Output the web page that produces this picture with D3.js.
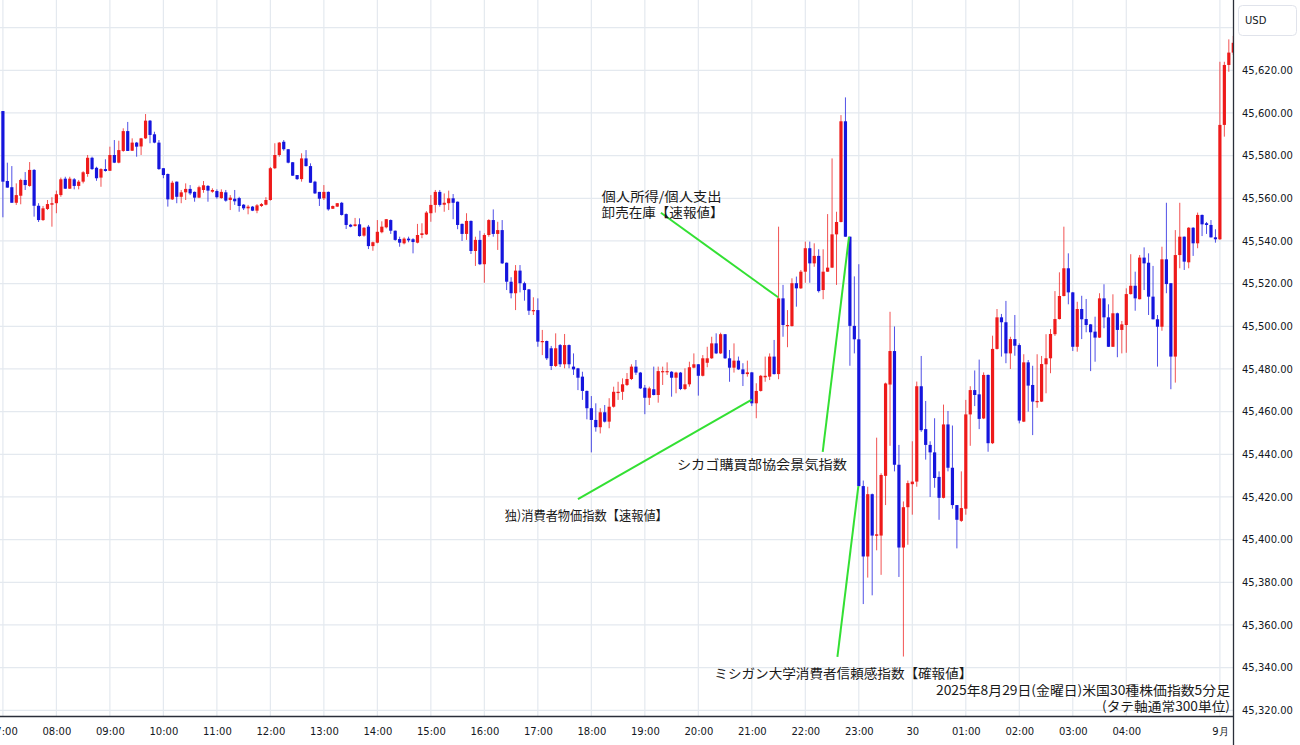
<!DOCTYPE html>
<html><head><meta charset="utf-8">
<script src="https://cdn.jsdelivr.net/npm/d3@7/dist/d3.min.js"></script>
<style>
html,body{margin:0;padding:0;background:#fff;}
svg{display:block;}
</style></head>
<body>
<svg id="chart" width="1300" height="745"></svg>
<script>
// ---- data (US30 5-minute bars, 2025-08-29 session + first bars of Sept) ----
const open = [
45600.9,45568.1,45565.2,45557.9,45561.2,45568.6,45565.8,45573.3,45556.5,45549.8,
45555.0,45557.0,45557.7,45561.5,45569.2,45564.5,45568.9,45565.8,45567.8,45571.4,
45579.0,45574.3,45569.7,45573.7,45572.9,45580.3,45576.7,45582.2,45591.5,45582.3,
45586.1,45584.3,45588.1,45596.4,45590.0,45586.1,45574.1,45571.4,45559.5,45567.8,
45560.7,45562.8,45564.4,45563.0,45560.3,45563.9,45565.8,45563.1,45563.4,45560.1,
45562.8,45559.2,45559.8,45560.1,45557.0,45555.3,45556.1,45554.2,45556.4,45557.0,
45559.2,45574.1,45580.3,45586.5,45583.0,45576.9,45570.9,45569.0,45578.7,45575.1,
45567.8,45563.0,45560.0,45563.0,45555.1,45556.1,45557.9,45552.6,45547.6,45547.0,
45547.8,45542.5,45546.7,45537.6,45539.2,45544.1,45546.4,45549.8,45544.8,45540.9,
45538.9,45541.1,45540.8,45539.2,45542.8,45543.1,45553.0,45556.9,45563.0,45557.0,
45557.7,45560.0,45558.4,45548.0,45543.3,45549.4,45535.3,45540.5,45529.1,45542.8,
45549.8,45543.3,45545.1,45529.8,45520.9,45515.5,45526.1,45520.2,45517.3,45507.3,
45507.6,45492.6,45493.1,45489.7,45481.4,45491.2,45482.2,45491.2,45481.1,45480.3,
45476.4,45469.7,45461.6,45456.1,45452.7,45459.7,45455.3,45462.3,45468.7,45469.3,
45472.5,45475.3,45481.1,45478.3,45471.2,45466.5,45470.5,45467.8,45478.7,45478.7,
45478.7,45475.9,45478.3,45470.6,45472.8,45480.6,45482.2,45476.8,45482.9,45485.0,
45492.0,45487.3,45496.3,45485.0,45480.6,45483.9,45479.8,45477.6,45478.4,45463.9,
45469.7,45476.1,45476.4,45485.8,45477.6,45513.1,45500.1,45500.1,45520.2,45517.8,
45525.6,45536.6,45529.5,45533.0,45517.0,45525.6,45527.5,45543.1,45548.9,45596.1,
45542.0,45500.2,45493.9,45425.1,45392.1,45421.3,45401.8,45401.9,45429.9,45472.7,
45488.4,45435.1,45396.3,45415.2,45426.0,45427.2,45471.9,45451.8,45444.4,45440.9,
45429.4,45419.6,45454.0,45433.7,45416.2,45408.8,45414.5,45458.7,45470.1,45468.1,
45456.8,45477.2,45445.2,45489.4,45504.2,45501.9,45487.3,45494.0,45491.2,45455.3,
45483.1,45472.5,45464.4,45464.7,45482.2,45485.0,45496.3,45503.4,45514.2,45527.2,
45515.9,45490.4,45508.1,45503.4,45500.9,45497.5,45494.7,45513.1,45504.2,45490.4,
45506.1,45498.3,45500.6,45515.1,45519.0,45512.7,45532.2,45529.8,45513.9,45503.3,
45499.8,45531.4,45520.2,45485.8,45533.4,45542.0,45530.0,45546.2,45538.9,45552.2,
45548.3,45547.5,45541.7,45540.8,45594.4,45622.5,45628.3
];
const high = [
45600.9,45576.7,45575.1,45567.0,45569.2,45572.3,45577.0,45573.7,45557.7,45556.4,
45559.2,45560.5,45563.6,45569.7,45570.1,45570.1,45569.5,45568.6,45572.7,45580.3,
45579.5,45574.8,45574.1,45578.3,45584.2,45587.3,45587.0,45592.8,45595.8,45588.1,
45586.4,45588.3,45599.5,45596.7,45591.2,45587.3,45574.2,45571.6,45568.2,45567.9,
45563.9,45567.0,45566.2,45563.2,45565.9,45568.1,45566.2,45564.7,45564.2,45564.2,
45563.9,45561.5,45563.9,45560.7,45557.3,45556.9,45556.4,45557.3,45557.8,45560.5,
45574.7,45585.8,45586.4,45587.3,45583.1,45577.0,45570.9,45581.1,45582.6,45576.4,
45568.2,45563.0,45566.2,45563.2,45556.6,45557.8,45558.3,45552.9,45548.0,45550.8,
45550.6,45546.5,45547.5,45539.7,45549.8,45549.2,45550.3,45550.1,45544.9,45542.0,
45541.7,45542.0,45541.3,45548.0,45548.3,45554.0,45561.5,45563.9,45563.9,45562.3,
45563.6,45562.0,45558.5,45548.2,45553.0,45549.6,45542.0,45544.8,45543.6,45550.2,
45554.8,45549.0,45549.8,45529.9,45523.0,45528.7,45528.7,45520.9,45517.5,45513.6,
45513.1,45498.3,45493.3,45490.8,45496.7,45491.7,45496.4,45491.5,45487.3,45480.5,
45478.7,45469.9,45467.3,45463.9,45461.6,45463.1,45466.3,45471.7,45474.0,45475.6,
45478.1,45482.2,45484.2,45478.6,45472.5,45471.7,45481.1,45481.1,45481.1,45483.1,
45479.0,45478.7,45478.6,45480.3,45483.4,45487.3,45482.3,45486.5,45490.4,45495.1,
45496.7,45497.0,45496.4,45488.9,45492.0,45485.8,45482.7,45483.9,45478.6,45473.3,
45477.2,45485.8,45487.3,45493.6,45546.7,45519.4,45507.6,45522.5,45523.3,45526.4,
45539.7,45539.7,45538.9,45536.1,45536.1,45552.6,45578.7,45553.7,45599.0,45607.3,
45542.1,45523.4,45529.1,45427.7,45424.8,45421.6,45447.8,45431.1,45473.6,45506.8,
45499.9,45444.4,45417.9,45427.7,45446.1,45474.1,45486.1,45465.0,45446.1,45456.9,
45432.0,45463.3,45460.3,45453.5,45416.2,45432.0,45465.5,45471.9,45479.3,45484.4,
45478.4,45477.4,45495.6,45508.1,45505.8,45511.9,45495.1,45505.3,45492.0,45486.9,
45484.2,45481.5,45486.9,45486.1,45496.3,45498.7,45516.5,45525.3,45546.7,45534.2,
45516.1,45511.5,45514.3,45512.8,45501.1,45504.5,45515.5,45519.7,45510.3,45515.0,
45506.4,45502.5,45517.8,45533.8,45525.6,45533.4,45537.0,45534.2,45528.3,45505.3,
45537.3,45557.9,45520.3,45545.1,45557.9,45542.1,45546.5,45546.5,45553.3,45552.4,
45548.9,45549.8,45545.5,45624.0,45624.0,45634.5,45636.1
];
const low = [
45551.1,45565.0,45557.9,45556.9,45557.2,45563.9,45565.4,45551.4,45548.9,45549.4,
45554.5,45546.7,45553.0,45560.7,45564.4,45564.4,45564.2,45564.2,45567.0,45570.1,
45573.3,45568.2,45565.4,45572.5,45572.8,45576.5,45576.4,45581.8,45582.2,45582.2,
45579.5,45580.3,45587.8,45585.8,45585.8,45573.3,45569.4,45556.1,45559.2,45557.7,
45557.7,45559.2,45561.5,45558.4,45560.1,45562.6,45558.4,45562.6,45559.8,45559.8,
45558.4,45554.5,45556.9,45553.7,45554.5,45552.5,45554.0,45553.0,45555.9,45556.7,
45558.9,45573.7,45579.5,45582.3,45576.4,45570.5,45568.6,45567.8,45574.9,45567.2,
45562.0,45556.4,45559.2,45554.2,45555.0,45555.9,45551.9,45545.6,45546.4,45546.7,
45542.0,45542.0,45536.2,45535.4,45538.9,45543.6,45545.9,45543.3,45540.1,45537.3,
45538.4,45539.4,45534.2,45538.9,45541.3,45542.8,45549.0,45553.3,45556.1,45553.7,
45554.5,45550.2,45545.5,45540.0,45540.5,45533.9,45528.3,45528.7,45520.4,45542.0,
45542.0,45535.8,45529.2,45517.0,45513.1,45507.6,45515.9,45512.0,45505.3,45505.3,
45490.4,45486.5,45484.2,45479.5,45480.9,45480.9,45480.3,45480.3,45477.2,45470.1,
45465.5,45456.4,45440.9,45450.6,45449.8,45454.9,45452.2,45461.9,45465.5,45465.5,
45472.0,45474.8,45477.2,45470.6,45458.8,45463.1,45467.6,45464.2,45472.5,45477.2,
45467.0,45468.6,45470.1,45470.1,45471.7,45480.3,45467.5,45476.5,45480.8,45484.7,
45487.0,45487.0,45484.7,45474.0,45478.3,45479.5,45472.0,45476.4,45462.6,45456.9,
45469.4,45474.0,45474.8,45477.4,45475.2,45495.1,45490.2,45499.9,45509.2,45517.5,
45520.4,45520.4,45527.9,45515.8,45512.7,45525.5,45527.3,45519.4,45548.7,45541.9,
45481.5,45487.3,45424.9,45369.8,45382.2,45373.9,45395.0,45383.5,45416.2,45444.0,
45432.0,45382.5,45345.2,45397.6,45411.7,45424.8,45450.5,45437.5,45420.0,45424.3,
45409.3,45419.3,45432.0,45414.5,45395.9,45408.3,45411.7,45444.0,45462.6,45451.8,
45456.5,45441.2,45444.8,45489.1,45485.8,45482.7,45480.0,45486.2,45454.5,45455.1,
45460.0,45449.0,45461.8,45464.5,45468.6,45478.0,45495.5,45503.2,45514.0,45510.3,
45488.4,45488.1,45494.0,45497.2,45479.0,45483.4,45494.5,45499.1,45490.3,45490.3,
45485.5,45487.3,45487.6,45514.9,45507.3,45512.6,45517.0,45505.3,45503.2,45481.1,
45497.9,45515.5,45470.5,45473.6,45527.2,45526.4,45527.2,45533.0,45536.6,45542.3,
45543.3,45541.6,45539.2,45540.5,45588.9,45619.3,45627.2
];
const close = [
45567.8,45565.0,45557.9,45561.5,45568.6,45566.2,45573.3,45556.5,45549.8,45555.3,
45557.3,45557.7,45561.9,45568.9,45564.5,45569.2,45565.8,45567.8,45572.2,45579.0,
45573.7,45569.4,45573.7,45572.8,45580.3,45576.7,45582.6,45591.5,45582.2,45586.1,
45584.2,45588.1,45596.4,45589.7,45586.1,45573.7,45570.9,45559.5,45567.3,45560.7,
45562.8,45564.4,45562.3,45560.3,45565.2,45566.1,45563.6,45563.9,45560.5,45563.0,
45558.9,45560.3,45558.6,45556.4,45555.3,45556.1,45554.2,45556.7,45557.3,45559.2,
45574.1,45580.3,45586.1,45583.0,45576.7,45570.6,45569.0,45578.7,45575.1,45567.3,
45562.3,45559.8,45563.0,45554.8,45556.4,45557.7,45552.2,45547.5,45546.7,45547.8,
45542.3,45546.2,45537.6,45539.4,45544.3,45546.7,45550.2,45544.8,45540.5,45539.2,
45541.1,45540.3,45539.5,45542.8,45543.6,45553.3,45556.9,45563.0,45556.9,45557.9,
45560.0,45557.9,45547.5,45543.3,45549.4,45535.3,45540.5,45529.1,45542.8,45549.8,
45543.3,45545.1,45529.5,45520.9,45515.5,45526.1,45520.2,45517.0,45507.3,45507.6,
45492.8,45493.1,45485.0,45481.4,45489.7,45482.2,45491.2,45482.2,45479.8,45475.9,
45469.7,45461.6,45456.1,45452.7,45459.7,45455.3,45462.3,45469.3,45469.3,45472.8,
45475.3,45481.1,45478.3,45470.9,45466.5,45470.9,45467.8,45479.0,45479.0,45479.0,
45475.9,45478.3,45470.6,45472.8,45480.8,45482.2,45476.8,45485.0,45485.0,45492.0,
45487.3,45496.3,45485.0,45480.6,45483.9,45479.8,45477.6,45478.4,45463.9,45469.7,
45476.8,45476.8,45485.8,45477.6,45513.1,45500.6,45500.6,45520.2,45517.8,45525.6,
45536.6,45529.5,45533.0,45516.5,45525.6,45527.5,45543.1,45548.9,45596.1,45542.0,
45500.2,45493.9,45425.1,45392.1,45421.3,45401.9,45402.5,45430.3,45473.2,45488.4,
45435.1,45396.3,45415.2,45426.5,45427.2,45471.9,45451.3,45444.4,45440.9,45428.9,
45419.6,45454.0,45433.7,45416.2,45409.3,45414.8,45458.7,45470.1,45467.8,45456.6,
45477.2,45445.2,45489.4,45504.2,45501.9,45487.3,45494.0,45490.9,45455.8,45483.1,
45472.2,45464.7,45465.0,45482.3,45485.0,45496.4,45503.4,45514.2,45527.2,45515.9,
45490.4,45508.1,45503.3,45500.6,45497.2,45494.7,45513.1,45504.2,45490.4,45506.1,
45498.3,45500.9,45515.1,45519.0,45513.1,45532.2,45529.5,45513.9,45503.3,45499.8,
45531.4,45519.8,45485.8,45533.4,45542.0,45530.3,45546.2,45538.9,45552.2,45547.8,
45547.5,45541.7,45540.8,45594.4,45622.5,45628.3,45632.9
];
// x-axis ticks: bar index -> label
const tickIndex = [0,12,24,36,48,60,72,84,96,108,120,132,144,156,168,180,192,204,216,228,240,252,273];
const tickLabel = ["07:00","08:00","09:00","10:00","11:00","12:00","13:00","14:00","15:00","16:00","17:00","18:00","19:00","20:00","21:00","22:00","23:00","30","01:00","02:00","03:00","04:00","9月"];
// y-axis ticks
const yTickValues = [45320,45340,45360,45380,45400,45420,45440,45460,45480,45500,45520,45540,45560,45580,45600,45620];
const yGridValues = yTickValues.concat([45640]);
// annotations (text lines) and leader lines given in data space [barIndex, price]
const notes = [
  {lines:["個人所得/個人支出","卸売在庫【速報値】"], at:[134.3,45558.8], widths:[120,122]},
  {lines:["シカゴ購買部協会景気指数"], at:[151.2,45433.0], widths:[170]},
  {lines:["独)消費者物価指数【速報値】"], at:[112.6,45409.2], widths:[163]},
  {lines:["ミシガン大学消費者信頼感指数【確報値】"], at:[159.6,45335.2], widths:[258]}
];
const leaders = [
  [[147.6,45553.2],[173.9,45513.6]],
  [[129.0,45419.0],[168.0,45465.6]],
  [[183.9,45441.1],[189.8,45541.9]],
  [[187.2,45345.0],[191.9,45425.1]]
];
const footLines = ["2025年8月29日(金曜日)米国30種株価指数5分足","(タテ軸通常300単位)"];

// ---- layout ----
const W = 1300, H = 745;
const plotR = 1233, plotB = 716;
const svg = d3.select("#chart");
svg.append("rect").attr("width",W).attr("height",H).attr("fill","#fff");

const x = d3.scaleLinear().domain([0,273]).range([2.9,1219.9]);
const y = d3.scaleLinear().domain([45320,45620]).range([710.3,70.3]);

svg.append("defs").append("clipPath").attr("id","plotclip")
  .append("rect").attr("x",0).attr("y",0).attr("width",plotR).attr("height",plotB);

// grid
const grid = svg.append("g").attr("clip-path","url(#plotclip)");
grid.selectAll("line.hg").data(yGridValues).enter().append("line")
  .attr("x1",0).attr("x2",plotR).attr("y1",d=>y(d)).attr("y2",d=>y(d))
  .attr("stroke","#e4e9ef").attr("stroke-width",1.2);
grid.selectAll("line.vg").data(tickIndex).enter().append("line")
  .attr("x1",d=>x(d)).attr("x2",d=>x(d)).attr("y1",0).attr("y2",plotB)
  .attr("stroke","#e4e9ef").attr("stroke-width",1.2);

// candles
const n = Math.min(open.length, high.length, low.length, close.length);
const bars = d3.range(n).map(i=>({i, o:open[i], h:high[i], l:low[i], c:close[i]}));
const UP = "#ee1a1a", DN = "#1515dd";
const cg = svg.append("g").attr("clip-path","url(#plotclip)");
const cand = cg.selectAll("g.c").data(bars).enter().append("g");
cand.append("line")
  .attr("x1",d=>x(d.i)).attr("x2",d=>x(d.i))
  .attr("y1",d=>y(d.h)).attr("y2",d=>y(d.l))
  .attr("stroke",d=>d.c>=d.o?UP:DN).attr("stroke-width",1).attr("stroke-opacity",0.75);
cand.append("rect")
  .attr("x",d=>x(d.i)-1.6).attr("width",3.2)
  .attr("y",d=>y(Math.max(d.o,d.c)))
  .attr("height",d=>Math.max(1.2, Math.abs(y(d.o)-y(d.c))))
  .attr("fill",d=>d.c>=d.o?UP:DN);

// leader lines
const lg = svg.append("g");
leaders.forEach(s=>{
  lg.append("line")
    .attr("x1",x(s[0][0])).attr("y1",y(s[0][1]))
    .attr("x2",x(s[1][0])).attr("y2",y(s[1][1]))
    .attr("stroke","#33e033").attr("stroke-width",2);
});

// annotation texts
const tg = svg.append("g").attr("font-family","'Noto Sans CJK JP','Noto Sans',sans-serif")
  .attr("font-size",13).attr("fill","#1a1a1a");
notes.forEach(nt=>{
  nt.lines.forEach((t,k)=>{
    tg.append("text").attr("x",x(nt.at[0])).attr("y",y(nt.at[1])+k*16)
      .attr("textLength",nt.widths[k]).attr("lengthAdjust","spacingAndGlyphs").text(t);
  });
});
footLines.forEach((t,k)=>{
  tg.append("text").attr("x",1230).attr("y",695+k*15.5).attr("text-anchor","end")
    .attr("textLength",k===0?294:128).attr("lengthAdjust","spacingAndGlyphs").text(t);
});

// axes
const xAxis = d3.axisBottom(x).tickValues(tickIndex).tickFormat((d,i)=>tickLabel[i]).tickSize(0).tickPadding(0);
const gx = svg.append("g").attr("transform",`translate(0,${plotB})`).call(xAxis);
gx.select(".domain").remove();
gx.selectAll("text").attr("font-family","'DejaVu Sans',sans-serif").attr("font-size",10)
  .attr("fill","#131722").attr("dy",0).attr("y",19);

const yAxis = d3.axisRight(y).tickValues(yTickValues).tickFormat(d3.format(",.2f")).tickSize(0).tickPadding(0);
const gy = svg.append("g").attr("transform",`translate(${plotR+9},0)`).call(yAxis);
gy.select(".domain").remove();
gy.selectAll("text").attr("font-family","'DejaVu Sans',sans-serif").attr("font-size",10)
  .attr("fill","#131722");

// borders
svg.append("line").attr("x1",0).attr("x2",plotR).attr("y1",plotB+0.5).attr("y2",plotB+0.5)
  .attr("stroke","#2a2e39").attr("stroke-width",1.3);
svg.append("line").attr("x1",plotR+0.5).attr("x2",plotR+0.5).attr("y1",0).attr("y2",H)
  .attr("stroke","#2a2e39").attr("stroke-width",1.3);

// currency box
svg.append("rect").attr("x",1238.5).attr("y",5.5).attr("width",58).attr("height",30).attr("rx",4)
  .attr("fill","#fff").attr("stroke","#e0e3eb");
svg.append("text").attr("x",1245).attr("y",24).attr("font-family","'DejaVu Sans',sans-serif")
  .attr("font-size",10).attr("fill","#131722").text("USD");
</script>
</body></html>
